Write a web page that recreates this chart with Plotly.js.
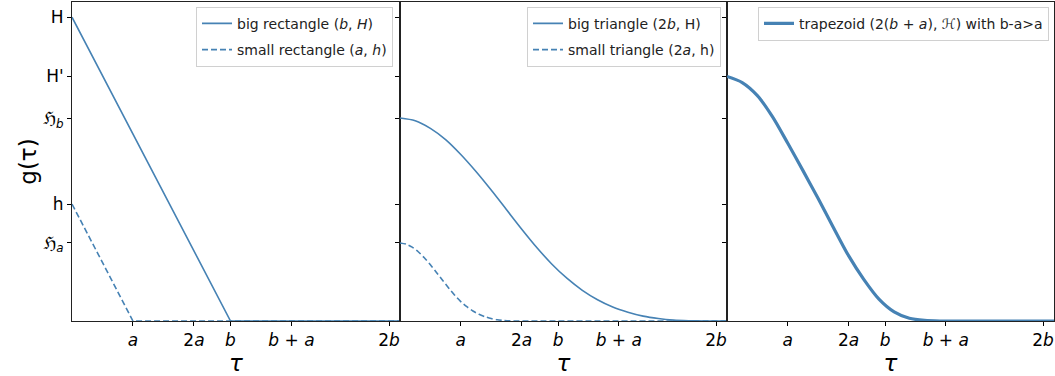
<!DOCTYPE html>
<html>
<head>
<meta charset="utf-8">
<script src="https://cdn.plot.ly/plotly-3.0.1.min.js"></script>
<style>html,body{margin:0;padding:0;background:#fff;}#chart{width:1055px;height:376px;}</style>
</head>
<body>
<div id="chart"></div>
<script>
// symbolic levels (H normalised to 1) and positions (a normalised to 1)
const A = 1, B = 2.6;
const yTickVals = [1.0, 0.806, 0.668, 0.385, 0.257];
const yTickText = ['H', "H'", 'ℌ<sub><i>b</i></sub>', 'h', 'ℌ<sub><i>a</i></sub>'];
const xTickVals = [A, 2 * A, B, B + A, 2 * B];
const xTickText = ['<i>a</i>', '2<i>a</i>', '<i>b</i>', '<i>b</i> + <i>a</i>', '2<i>b</i>'];
const xMax = 5.38;

// panel 1: rectangles
const bigRectX = [0, 2.6, 5.38];
const bigRectY = [1.0, 0, 0];
const smallRectX = [0, 1.0, 5.38];
const smallRectY = [0.385, 0, 0];

// panel 2: triangles
const bigTriX = [0, 0.25, 0.5, 0.75, 1.0, 1.25, 1.5, 1.75, 2.0, 2.25, 2.5, 2.75, 3.0, 3.25, 3.5, 3.75, 4.0, 4.25, 4.5, 4.75, 5.0, 5.2, 5.38];
const bigTriY = [0.668, 0.659, 0.634, 0.597, 0.548, 0.492, 0.431, 0.367, 0.303, 0.242, 0.187, 0.140, 0.101, 0.070, 0.046, 0.029, 0.016, 0.008, 0.003, 0.001, 0.0001, 0, 0];
const smallTriX = [0, 0.1, 0.2, 0.3, 0.4, 0.5, 0.6, 0.7, 0.8, 0.9, 1.0, 1.1, 1.2, 1.3, 1.4, 1.5, 1.6, 1.7, 1.8, 2.0, 5.38];
const smallTriY = [0.257, 0.253, 0.243, 0.228, 0.208, 0.185, 0.160, 0.134, 0.109, 0.085, 0.064, 0.047, 0.033, 0.022, 0.014, 0.008, 0.004, 0.0017, 0.0005, 0, 0];

// panel 3: trapezoid
const trapX = [0, 0.25, 0.5, 0.75, 1.0, 1.25, 1.5, 1.75, 2.0, 2.25, 2.5, 2.75, 3.0, 3.25, 3.5, 5.38];
const trapY = [0.805, 0.785, 0.742, 0.672, 0.585, 0.495, 0.403, 0.308, 0.215, 0.137, 0.072, 0.030, 0.009, 0.002, 0, 0];

const col = '#4682b4';
const traces = [
  {x: bigRectX, y: bigRectY, mode: 'lines', line: {color: col, width: 1.6}, name: 'big rectangle (<i>b</i>, <i>H</i>)', xaxis: 'x', yaxis: 'y', legend: 'legend', legendgroup: 'g1'},
  {x: smallRectX, y: smallRectY, mode: 'lines', line: {color: col, width: 1.6, dash: '6px,3px'}, name: 'small rectangle (<i>a</i>, <i>h</i>)', xaxis: 'x', yaxis: 'y', legend: 'legend', legendgroup: 'g2'},
  {x: bigTriX, y: bigTriY, mode: 'lines', line: {color: col, width: 1.6, shape: 'spline', smoothing: 0.8}, name: 'big triangle (2<i>b</i>, H)', xaxis: 'x2', yaxis: 'y2', legend: 'legend2', legendgroup: 'g3'},
  {x: smallTriX, y: smallTriY, mode: 'lines', line: {color: col, width: 1.6, dash: '6px,3px', shape: 'spline', smoothing: 0.8}, name: 'small triangle (2<i>a</i>, h)', xaxis: 'x2', yaxis: 'y2', legend: 'legend2', legendgroup: 'g4'},
  {x: trapX, y: trapY, mode: 'lines', line: {color: col, width: 3.2, shape: 'spline', smoothing: 0.8}, name: 'trapezoid (2(<i>b</i> + <i>a</i>), <i>ℋ</i>) with b-a>a', xaxis: 'x3', yaxis: 'y3', legend: 'legend3', legendgroup: 'g5'}
];

const fontFam = 'DejaVu Sans, sans-serif';
function xax(dom) {
  return {domain: dom, range: [0, xMax], tickvals: xTickVals, ticktext: xTickText, ticks: 'outside', ticklen: 4, tickcolor: '#000',
    showline: true, mirror: true, linecolor: '#222', linewidth: 1, showgrid: false, zeroline: false,
    tickfont: {family: fontFam, size: 17, color: '#000'},
    title: {text: '<i>τ</i>', font: {family: fontFam, size: 23, color: '#000'}, standoff: 7}};
}
function yax(anchor, labels) {
  return {anchor: anchor, domain: [0, 1], range: [0, 1.05], tickvals: yTickVals, ticktext: yTickText, showticklabels: labels,
    ticks: 'outside', ticklen: 4, tickcolor: '#000', showline: true, mirror: true, linecolor: '#222', linewidth: 1,
    showgrid: false, zeroline: false, tickfont: {family: fontFam, size: 17, color: '#000'}};
}
function leg(xr) {
  return {x: xr, xanchor: 'right', y: 0.985, yanchor: 'top', bordercolor: '#d0d0d0', borderwidth: 1,
    bgcolor: 'rgba(255,255,255,0.9)', font: {size: 14, family: fontFam, color: '#222'}, tracegroupgap: 5, traceorder: 'grouped'};
}
const w = 982;
const layout = {
  width: 1055, height: 376,
  margin: {l: 72, r: 1, t: 2, b: 55},
  paper_bgcolor: '#fff', plot_bgcolor: '#fff',
  font: {family: fontFam, color: '#000'},
  xaxis: xax([0, 328 / w]),
  xaxis2: Object.assign(xax([328 / w, 655 / w]), {anchor: 'y2'}),
  xaxis3: Object.assign(xax([655 / w, 1]), {anchor: 'y3'}),
  yaxis: Object.assign(yax('x', true), {title: {text: 'g(τ)', font: {family: fontFam, size: 23, color: '#000'}, standoff: 0}}),
  yaxis2: yax('x2', false),
  yaxis3: yax('x3', false),
  legend: leg(321 / w),
  legend2: leg(649 / w),
  legend3: leg(977 / w),
  showlegend: true
};
Plotly.newPlot('chart', traces, layout, {displayModeBar: false, staticPlot: true});
</script>
</body>
</html>
